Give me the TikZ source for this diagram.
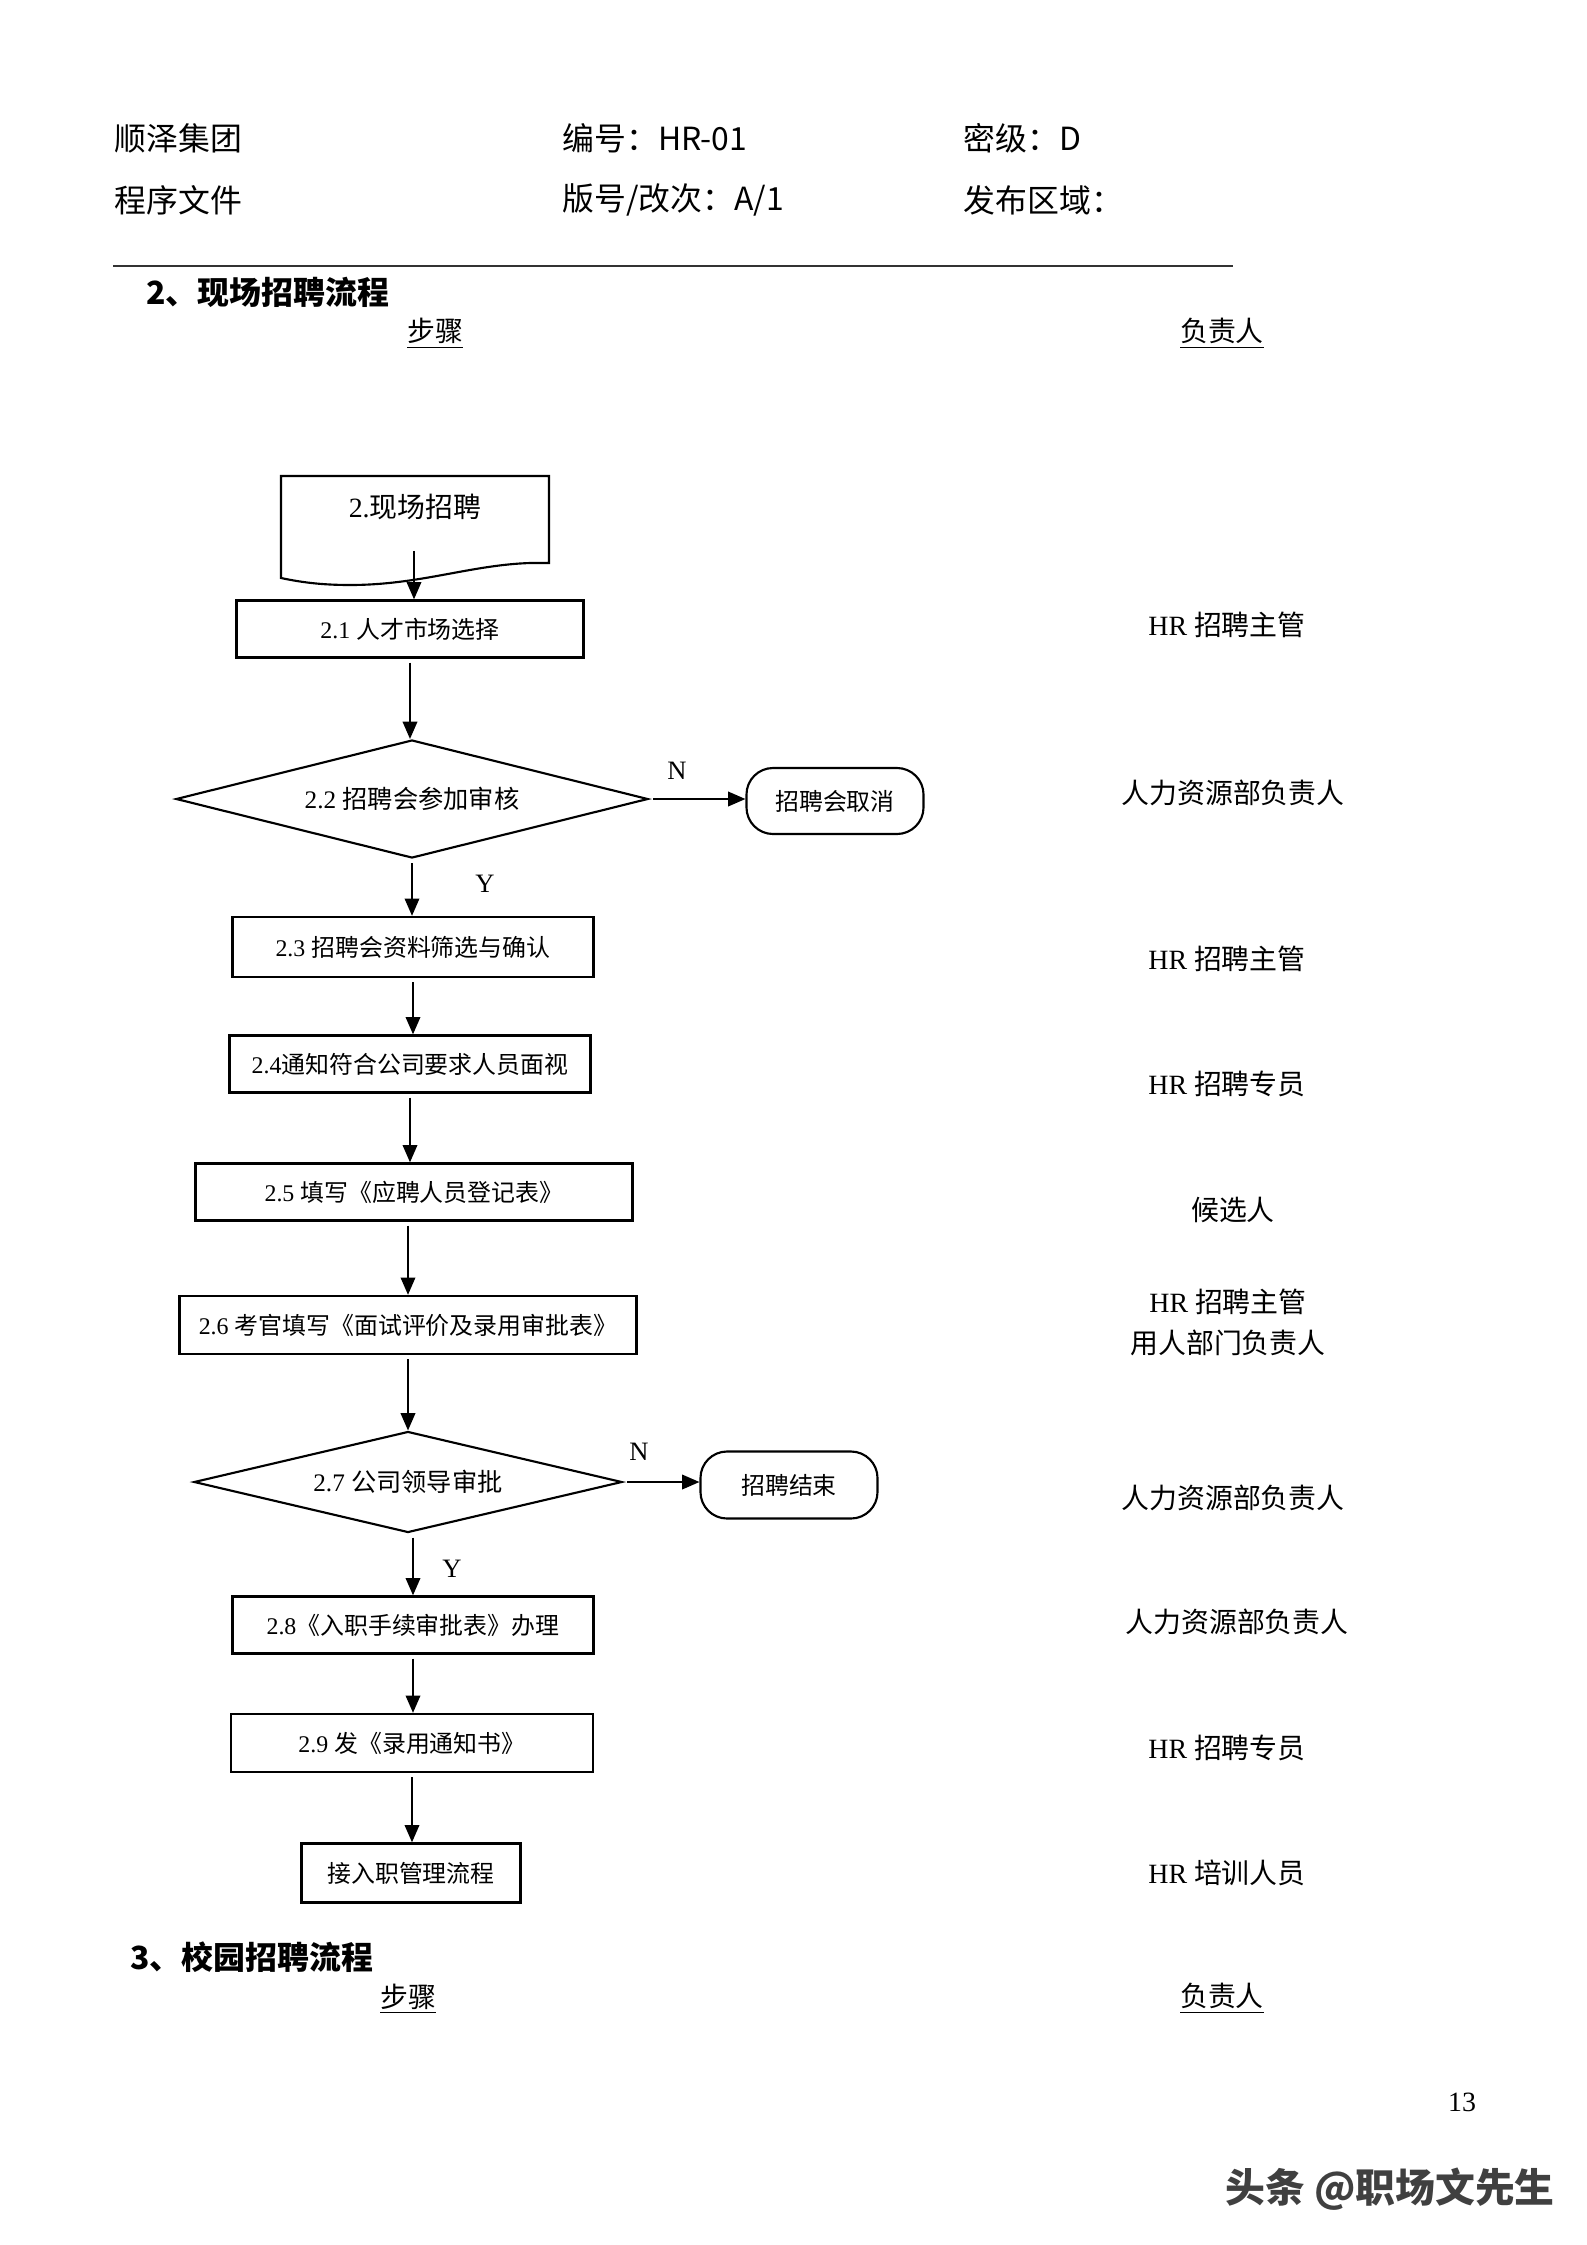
\documentclass[tikz,border=0pt]{standalone}
\usepackage{fontspec}
\setmainfont{Liberation Serif}
\newfontfamily\cjk{Noto Sans CJK SC}
\usetikzlibrary{shapes.geometric,arrows.meta}

\tikzset{
  sz/.style 2 args={minimum width=#1*0.3765pt, minimum height=#2*0.3765pt},
  flow/.style={-{Triangle[length=6.5pt,width=5.5pt]}, line width=0.6pt, shorten <=1.5pt},
  proc/.style={draw, line width=0.9pt, inner sep=1pt, font=\fontsize{9}{11}\selectfont},
  dec/.style={draw, diamond, aspect=4, line width=0.8pt, inner sep=0pt, font=\fontsize{9.5}{11}\selectfont},
  term/.style={draw, rounded corners=10pt, line width=0.8pt, font=\cjk\fontsize{9}{11}\selectfont},
  who/.style={font=\fontsize{10.5}{15.5}\selectfont, align=center},
  hdr/.style={anchor=west, inner xsep=0pt, font=\cjk\fontsize{12}{14}\selectfont},
  sect/.style={anchor=west, inner xsep=0pt, font=\cjk\bfseries\fontsize{12}{14}\selectfont},
  colhead/.style={font=\cjk\fontsize{10.5}{13}\selectfont},
  yn/.style={font=\fontsize{10}{12}\selectfont},
}

\begin{document}
\begin{tikzpicture}[x=0.013233cm,y=-0.013233cm]
\useasboundingbox (0,0) rectangle (1587,2245);
%---------------------------------------------------
\node[hdr] (co)   at (114,138) {顺泽集团};
\node[hdr] (no)   at (562,138) {编号：HR-01};
\node[hdr] (lvl)  at (963,138) {密级：D};
\node[hdr] (kind) at (114,200) {程序文件};
\node[hdr] (ver)  at (562,200) {版号/改次：A/1};
\node[hdr] (area) at (963,200) {发布区域：};
\draw[line width=0.6pt,black!80] (113,266) -- (1233,266);
%---------------------------------------------------
\node[sect] (sec2) at (146,292) {2、现场招聘流程};
\node[colhead] (steps2) at (435,334) {\underline{步骤}};
\node[colhead] (owner2) at (1222,334) {\underline{负责人}};
%---------------------------------------------------
\draw[line width=0.8pt] (281,476) -- (549,476) -- (549,563) -- (530,563)
  .. controls (470,565) and (420,585) .. (350,585)
  .. controls (320,585) and (300,582) .. (281,578) -- cycle;
\node[font=\fontsize{10.5}{12}\selectfont] (start) at (415,507) {2.\cjk 现场招聘};
\coordinate (startout) at (414,547);
\node[proc,sz={347}{57}] (b21) at (410,629) {2.1 \cjk 人才市场选择};
\node[dec,sz={472}{118}] (d22) at (412,799) {2.2 \cjk 招聘会参加审核};
\node[term,sz={177}{66}] (t22) at (835,801) {招聘会取消};
\node[proc,sz={361}{60}] (b23) at (413,947) {2.3 \cjk 招聘会资料筛选与确认};
\node[proc,sz={361}{57}] (b24) at (410,1064) {2.4\cjk 通知符合公司要求人员面视};
\node[proc,sz={437}{57}] (b25) at (414,1192) {2.5 \cjk 填写《应聘人员登记表》};
\node[proc,sz={457}{58}] (b26) at (408,1325) {2.6 \cjk 考官填写《面试评价及录用审批表》};
\node[dec,sz={428}{101}] (d27) at (408,1482) {2.7 \cjk 公司领导审批};
\node[term,sz={177}{67}] (t27) at (789,1485) {招聘结束};
\node[proc,sz={361}{57}] (b28) at (413,1625) {2.8\cjk《入职手续审批表》办理};
\node[proc,sz={362}{58}] (b29) at (412,1743) {2.9 \cjk 发《录用通知书》};
\node[proc,sz={219}{59},font=\cjk\fontsize{9}{11}\selectfont] (b30) at (411,1873) {接入职管理流程};
%---------------------------------------------------
\node[yn] (n22) at (677,771) {N};
\node[yn] (y22) at (485,884) {Y};
\node[yn] (n27) at (639,1452) {N};
\node[yn] (y27) at (452,1569) {Y};
%---------------------------------------------------
\draw[flow] (startout) -- (startout |- b21.north);
\draw[flow] (b21.south) -- (b21.south |- d22.north);
\draw[flow] (d22.east) -- (d22.east -| t22.west);
\draw[flow] (d22.south) -- (d22.south |- b23.north);
\draw[flow] (b23.south) -- (b23.south |- b24.north);
\draw[flow] (b24.south) -- (b24.south |- b25.north);
\draw[flow] (b26.north |- b25.south) -- (b26.north);
\draw[flow] (b26.south) -- (b26.south |- d27.north);
\draw[flow] (d27.east) -- (d27.east -| t27.west);
\draw[flow] (b28.north |- d27.south) -- (b28.north);
\draw[flow] (b28.south) -- (b28.south |- b29.north);
\draw[flow] (b29.south) -- (b29.south |- b30.north);
%---------------------------------------------------
\node[who] (w21) at (1227,625) {HR \cjk 招聘主管};
\node[who] (w22) at (1233,793) {\cjk 人力资源部负责人};
\node[who] (w23) at (1227,959) {HR \cjk 招聘主管};
\node[who] (w24) at (1227,1084) {HR \cjk 招聘专员};
\node[who] (w25) at (1233,1210) {\cjk 候选人};
\node[who] (w26) at (1228,1322) {HR {\cjk 招聘主管}\\\cjk 用人部门负责人};
\node[who] (w27) at (1233,1498) {\cjk 人力资源部负责人};
\node[who] (w28) at (1237,1622) {\cjk 人力资源部负责人};
\node[who] (w29) at (1227,1748) {HR \cjk 招聘专员};
\node[who] (w30) at (1227,1873) {HR \cjk 培训人员};
%---------------------------------------------------
\node[sect] (sec3) at (130,1957) {3、校园招聘流程};
\node[colhead] (steps3) at (408,1999) {\underline{步骤}};
\node[colhead] (owner3) at (1222,1999) {\underline{负责人}};
\node[font=\fontsize{10.5}{12}\selectfont] (page) at (1462,2102) {13};
\node[font=\cjk\bfseries\fontsize{15}{17}\selectfont,text=black!75] (mark) at (1390,2189) {头条 @职场文先生};
\end{tikzpicture}
\end{document}
